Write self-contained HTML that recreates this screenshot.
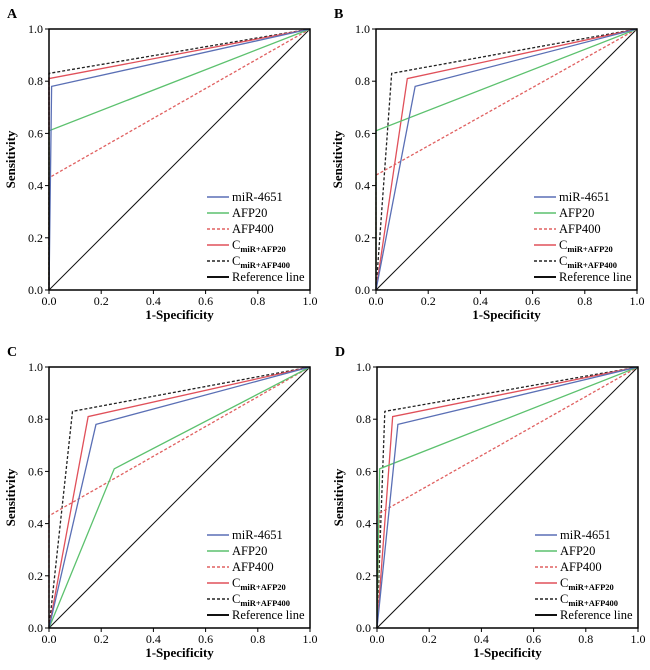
<!DOCTYPE html>
<html><head><meta charset="utf-8"><style>
body{margin:0;background:#fff;width:650px;height:665px;overflow:hidden}
svg text{font-family:"Liberation Serif",serif}
</style></head><body>
<svg id="fig" width="650" height="665" xmlns="http://www.w3.org/2000/svg"></svg>
<script>
const panels = ["A","B","C","D"];
const seriesNames = ["miR-4651","AFP20","AFP400","CmiR+AFP20","CmiR+AFP400"];
const ticks = [0,0.2,0.4,0.6,0.8,1.0];
const tickLabels = ["0.0","0.2","0.4","0.6","0.8","1.0"];
// cut-point (1-specificity, sensitivity) per series per panel
const fprA = [0.01,0,0,0,0];
const tprA = [0.78,0.61,0.43,0.81,0.83];
const fprB = [0.15,0,0,0.12,0.06];
const tprB = [0.78,0.61,0.44,0.81,0.83];
const fprC = [0.18,0.25,0,0.15,0.09];
const tprC = [0.78,0.61,0.43,0.81,0.83];
const fprD = [0.08,0.01,0.01,0.06,0.03];
const tprD = [0.78,0.61,0.44,0.81,0.83];
const fprs=[fprA,fprB,fprC,fprD], tprs=[tprA,tprB,tprC,tprD];
const colors=["#5a6fb5","#5cc16e","#e06060","#e0505a","#222"];
const dashes=[null,null,"3,2",null,"3,2"];
const origins=[[49,29],[376,29],[49,367],[377,367]];
const W=261,H=261;
const NS="http://www.w3.org/2000/svg";
const svg=document.getElementById("fig");
function mk(tag,attrs,parent){const e=document.createElementNS(NS,tag);for(const k in attrs)e.setAttribute(k,attrs[k]);(parent||svg).appendChild(e);return e;}
panels.forEach((p,pi)=>{
  const [ox,oy]=origins[pi];
  const xs=v=>ox+v*W, ys=v=>oy+H-v*H;
  const g=mk("g",{});
  
  
  const lab=mk("text",{x:ox-42,y:oy-11,"font-size":14,"font-weight":"bold"},g);lab.textContent=p;
  
  
  // reference line
  const ref=mk("line",{x1:xs(0),y1:ys(0),x2:xs(1),y2:ys(1),stroke:"#111","stroke-width":1},g);
  
  
  for(let i=seriesNames.length-1;i>=0;i--){
    const pts=[[0,0],[fprs[pi][i],tprs[pi][i]],[1,1]].map(q=>xs(q[0])+","+ys(q[1])).join(" ");
    const a={points:pts,fill:"none",stroke:colors[i],"stroke-width":1.3};
    if(dashes[i])a["stroke-dasharray"]=dashes[i];
    const pl=mk("polyline",a,g);
    
    
  }
  const ax=mk("path",{d:`M${ox},${oy} V${oy+H} H${ox+W} V${oy} Z`,fill:"none",stroke:"#000","stroke-width":1.5},g);
  
  
  ticks.forEach((t,ti)=>{
    mk("line",{x1:xs(t),y1:oy+H,x2:xs(t),y2:oy+H+4,stroke:"#000"},g);
    mk("line",{x1:ox-4,y1:ys(t),x2:ox,y2:ys(t),stroke:"#000"},g);
    const tx=mk("text",{x:xs(t),y:oy+H+15,"font-size":12,"text-anchor":"middle"},g);tx.textContent=tickLabels[ti];
    
    
    const ty=mk("text",{x:ox-6,y:ys(t)+4,"font-size":12,"text-anchor":"end"},g);ty.textContent=tickLabels[ti];
    
    
  });
  const xt=mk("text",{x:ox+W/2,y:oy+H+29,"font-size":13,"font-weight":"bold","text-anchor":"middle"},g);xt.textContent="1-Specificity";
  
  
  const yt=mk("text",{x:0,y:0,"font-size":13,"font-weight":"bold","text-anchor":"middle",transform:`translate(${ox-34},${oy+H/2}) rotate(-90)`},g);yt.textContent="Sensitivity";
  
  
  // legend
  const lx=ox+158, ly0=oy+168;
  const leg=mk("g",{},g);
  
  
  const legCols=[...colors,"#111"], legDash=[...dashes,null];
  const labels=["miR-4651","AFP20","AFP400",null,null,"Reference line"];
  const subs=[null,null,null,"miR+AFP20","miR+AFP400",null];
  for(let r=0;r<6;r++){
    const y=ly0+r*16;
    const a={x1:lx,y1:y,x2:lx+22,y2:y,stroke:legCols[r],"stroke-width":r==5?2:1.5};
    if(legDash[r])a["stroke-dasharray"]=legDash[r];
    mk("line",a,leg);
    const t=mk("text",{x:lx+25,y:y+4,"font-size":12.5},leg);
    if(labels[r])t.textContent=labels[r];
    else{t.textContent="C";const s=mk("tspan",{"font-size":8.5,"font-weight":"bold",dy:3},t);s.textContent=subs[r];}
    
    
  }
});
</script>
</body></html>
